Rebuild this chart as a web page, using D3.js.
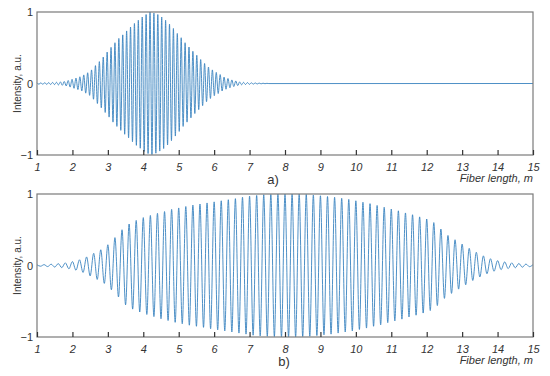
<!DOCTYPE html>
<html>
<head>
<meta charset="utf-8">
<script src="https://cdnjs.cloudflare.com/ajax/libs/d3/7.8.5/d3.min.js"></script>
<style>
body { margin: 0; background: #fff; }
text { font-family: "Liberation Sans", Arial, sans-serif; fill: #333; }
</style>
</head>
<body>
<svg id="chart" width="550" height="376"></svg>
<script>
// x tick labels (fiber length, m) and y tick labels
var xTicks = [1, 2, 3, 4, 5, 6, 7, 8, 9, 10, 11, 12, 13, 14, 15];
var yTicks = [-1, 0, 1];

// panel a) : peak heights of each half-cycle,
// first peak at 1 m, one peak every 0.055 m, sign alternates
var aStart = 1, aStep = 0.055;
var aPeaks = [
  0.01, 0.01, 0.01, 0.012, 0.012, 0.013, 0.013, 0.014, 0.015, 0.015,
  0.017, 0.02, 0.022, 0.025, 0.028, 0.034, 0.042, 0.05, 0.059, 0.067,
  0.076, 0.085, 0.094, 0.104, 0.12, 0.135, 0.15, 0.166, 0.19, 0.22,
  0.25, 0.28, 0.306, 0.34, 0.37, 0.405, 0.44, 0.47, 0.505, 0.54,
  0.57, 0.6, 0.63, 0.655, 0.68, 0.71, 0.735, 0.76, 0.79, 0.815,
  0.84, 0.865, 0.885, 0.905, 0.93, 0.95, 0.965, 0.98, 1.0, 0.995,
  0.985, 0.975, 0.965, 0.945, 0.93, 0.91, 0.885, 0.86, 0.83, 0.8,
  0.77, 0.735, 0.7, 0.67, 0.64, 0.6, 0.57, 0.54, 0.51, 0.48,
  0.45, 0.42, 0.395, 0.365, 0.335, 0.31, 0.28, 0.255, 0.23, 0.21,
  0.19, 0.17, 0.155, 0.14, 0.125, 0.105, 0.09, 0.08, 0.07, 0.06,
  0.05, 0.043, 0.036, 0.029, 0.022, 0.018, 0.016, 0.014, 0.013, 0.012,
  0.01, 0.009, 0.008, 0.007, 0.006, 0.005, 0.004, 0.003, 0.002, 0.001
];

// panel b) : same idea, first peak at 1 m, one peak every 0.1 m
var bStart = 1, bStep = 0.1;
var bPeaks = [
  0.01, 0.01, 0.012, 0.015, 0.018, 0.022, 0.026, 0.03, 0.037, 0.046,
  0.055, 0.066, 0.08, 0.097, 0.12, 0.145, 0.17, 0.195, 0.22, 0.25,
  0.29, 0.34, 0.39, 0.44, 0.5, 0.55, 0.58, 0.61, 0.63, 0.65,
  0.67, 0.685, 0.7, 0.715, 0.73, 0.745, 0.755, 0.77, 0.785, 0.795,
  0.805, 0.815, 0.825, 0.835, 0.845, 0.85, 0.86, 0.865, 0.875, 0.885,
  0.89, 0.9, 0.905, 0.915, 0.92, 0.93, 0.935, 0.945, 0.955, 0.96,
  0.97, 0.975, 0.98, 0.985, 0.99, 0.99, 0.995, 0.995, 1.0, 1.0,
  1.0, 1.0, 1.0, 1.0, 1.0, 0.995, 0.995, 0.99, 0.985, 0.98,
  0.975, 0.97, 0.965, 0.96, 0.955, 0.945, 0.94, 0.93, 0.925, 0.915,
  0.905, 0.895, 0.885, 0.875, 0.865, 0.85, 0.84, 0.83, 0.815, 0.8,
  0.79, 0.775, 0.765, 0.75, 0.735, 0.72, 0.71, 0.695, 0.68, 0.665,
  0.65, 0.63, 0.6, 0.56, 0.51, 0.46, 0.42, 0.39, 0.36, 0.33,
  0.3, 0.27, 0.24, 0.21, 0.185, 0.16, 0.135, 0.115, 0.095, 0.08,
  0.068, 0.058, 0.05, 0.043, 0.037, 0.032, 0.028, 0.024, 0.02, 0.016,
  0.012
];

var svg = d3.select("#chart");
var lineColor = "#3a83c0";

// turn a list of peak heights into alternating +/- points
function toPoints(peaks, start, step) {
  return peaks.map(function(p, i) {
    return { x: start + i * step, y: (i % 2 == 0) ? p : -p };
  });
}

function drawPanel(top, bottom, pts, label, labelX) {
  var left = 37, right = 533;
  var x = d3.scaleLinear().domain([1, 15]).range([left, right]);
  var y = d3.scaleLinear().domain([-1, 1]).range([bottom, top]);

  var g = svg.append("g");

  // trace
  var line = d3.line()
    .x(function(d) { return x(d.x); })
    .y(function(d) { return y(d.y); })
    .curve(d3.curveMonotoneX);
  g.append("path")
    .datum(pts)
    .attr("d", line)
    .attr("fill", "none")
    .attr("stroke", lineColor)
    .attr("stroke-width", 0.9);

  // box
  g.append("rect")
    .attr("x", left).attr("y", top)
    .attr("width", right - left).attr("height", bottom - top)
    .attr("fill", "none")
    .attr("stroke", "#7a7a7a")
    .attr("stroke-width", 1.2);

  // x axis, ticks pointing into the plot
  var xa = g.append("g")
    .attr("transform", "translate(0," + bottom + ")")
    .call(d3.axisBottom(x).tickValues(xTicks).tickSize(-5).tickPadding(8).tickFormat(d3.format("d")));
  xa.select(".domain").remove();
  xa.selectAll("line").attr("stroke", "#333").attr("stroke-width", 1.2);
  xa.selectAll("text")
    .attr("font-size", 11)
    .attr("font-style", "italic")
    .attr("fill", "#333");

  // y labels only
  var ya = g.append("g")
    .attr("transform", "translate(" + left + ",0)")
    .call(d3.axisLeft(y).tickValues(yTicks).tickSize(0).tickPadding(4)
      .tickFormat(function(d) { return d < 0 ? "\u22121" : d; }));
  ya.select(".domain").remove();
  ya.selectAll("text").attr("font-size", 11).attr("fill", "#333");

  // axis titles
  g.append("text")
    .attr("transform", "translate(21," + y(0) + ") rotate(-90)")
    .attr("text-anchor", "middle")
    .attr("font-size", 10)
    .text("Intensity, a.u.");
  g.append("text")
    .attr("x", right).attr("y", bottom + 27)
    .attr("text-anchor", "end")
    .attr("font-size", 11)
    .attr("font-style", "italic")
    .text("Fiber length, m");
  g.append("text")
    .attr("x", labelX).attr("y", bottom + 29)
    .attr("text-anchor", "middle")
    .attr("font-size", 13)
    .text(label);
}

var aPts = toPoints(aPeaks, aStart, aStep);
aPts.push({ x: 15, y: 0 });
var bPts = toPoints(bPeaks, bStart, bStep);

drawPanel(12, 155, aPts, "a)", 273);
drawPanel(194, 337, bPts, "b)", 284);
</script>
</body>
</html>
